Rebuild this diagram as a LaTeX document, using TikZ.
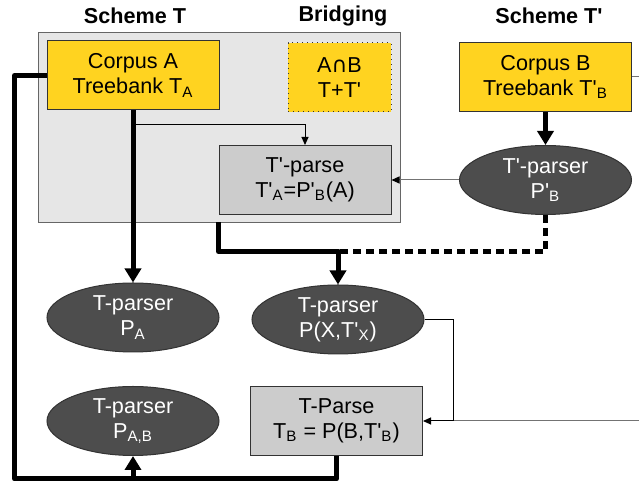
\documentclass[tikz,border=0pt]{standalone}
\usepackage{fontspec}
\setmainfont{Liberation Sans}
\newfontfamily\symfont{DejaVu Sans}
\usetikzlibrary{arrows.meta,shapes.geometric}
\definecolor{corpusc}{HTML}{FFD320}
\definecolor{parsec}{HTML}{CCCCCC}
\definecolor{bridgec}{HTML}{E6E6E6}
\definecolor{parserc}{HTML}{4D4D4D}
\newcommand\ap{\textquotesingle}
\begin{document}
\begin{tikzpicture}[x=0.5pt,y=-0.5pt,
    font=\fontsize{10.8}{12.5}\selectfont,
    blk/.style={draw=black!80,line width=0.5pt,minimum width=86pt,minimum height=34.5pt,inner sep=0pt,align=center},
    corpus/.style={blk,fill=corpusc},
    tparse/.style={blk,fill=parsec},
    parser/.style={blk,ellipse,fill=parserc,text=white},
    title/.style={font=\fontsize{10.8}{12.5}\selectfont\bfseries},
    thk/.style={line width=2.5pt,line join=round,-{Triangle[length=7pt,width=8pt]}},
    thn/.style={line width=0.5pt,-{Triangle[length=4pt,width=3.5pt,black]}},
    gry/.style={thn,draw=black!55}]
      \useasboundingbox (0,0) rectangle (639,485);
      \node[draw=black!60,fill=bridgec,minimum width=181pt,minimum height=95pt,inner sep=0pt] (S) at (219,127) {};
      \node[title] (st) at (135,16) {Scheme T};
      \node[title] (br) at (343,16) {Bridging};
      \node[title] (st2) at (549,16) {Scheme T\ap};
      \node[corpus] (A) at (133,75.5) {Corpus A\\Treebank T\textsubscript{A}};
      \node[corpus,dotted,minimum width=51.5pt] (AB) at (339.5,77.5) {A{\symfont ∩}B\\T+T\ap};
      \node[tparse] (tp) at (305,180) {T\ap-parse\\T\ap\textsubscript{A}=P\ap\textsubscript{B}(A)};
      \node[corpus] (B) at (545.5,77) {Corpus B\\Treebank T\ap\textsubscript{B}};
      \node[parser] (PB) at (545.5,180) {T\ap-parser\\P\ap\textsubscript{B}};
      \node[parser] (PA) at (133,317.5) {T-parser\\P\textsubscript{A}};
      \node[parser] (PX) at (338,319.5) {T-parser\\P(X,T\ap\textsubscript{X})};
      \node[parser] (PAB) at (133,421) {T-parser\\P\textsubscript{A,B}};
      \node[tparse] (tP) at (336.5,421) {T-Parse\\T\textsubscript{B} = P(B,T\ap\textsubscript{B})};
      \coordinate (r1) at (639,77);
      \coordinate (r2) at (639,421);
      \begin{scope}
        \draw[thn] ([yshift=-7pt]A.south) -| (tp.north);
        \draw[thk] (A) -- (PA);
        \draw[thk] (A.west) -- ++(-16pt,0) |- ([yshift=-11.5pt]PAB.south) -- (PAB.south);
        \draw[thk,-] (tP.south) |- ([yshift=-11.5pt]PAB.south);
        \draw[thk] (B) -- (PB);
        \draw[gry] (PB) -- (tp);
        \draw[thk,-,dash pattern=on 4pt off 2.5pt] (PB.south) |- ([yshift=16.5pt]PX.north);
        \draw[thk] (tp.west |- S.south) |- ([yshift=16.5pt]PX.north) -- (PX.north);
        \draw[thn] (PX.east) -- ++(14.5pt,0) |- (tP.east);
        \draw[gry,-] (r2) -- ([xshift=15.5pt]tP.east);
        \draw[gry,-] (B.east) -- (r1);
      \end{scope}
    \end{tikzpicture}
\end{document}
